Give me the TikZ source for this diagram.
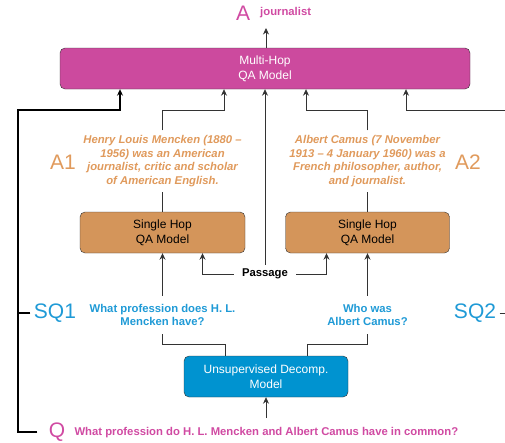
\documentclass[tikz,border=0pt]{standalone}
\usepackage{fontspec}
\setmainfont{Liberation Sans}
\usetikzlibrary{arrows.meta}
\definecolor{hopmagenta}{HTML}{CC4A9E}
\definecolor{hoporange}{HTML}{D4955A}
\definecolor{hopblue}{HTML}{0093D0}
\definecolor{magtext}{HTML}{D04AA2}
\definecolor{orangetext}{HTML}{E09A5C}
\definecolor{bluetext}{HTML}{1F9AD6}

\begin{document}
\begin{tikzpicture}[x=1pt,y=-1pt,
	model/.style={draw=black!80,rounded corners=5pt,minimum height=41pt,align=center,font=\fontsize{12}{15}\selectfont},
	said/.style={font=\fontsize{11.3}{13.4}\selectfont\bfseries,align=center},
	fact/.style={said,font=\fontsize{11.3}{13.4}\selectfont\bfseries\itshape,text=orangetext,inner ysep=5pt},
	subq/.style={said,text=bluetext,inner ysep=8pt},
	tag/.style={font=\fontsize{21}{21}\selectfont},
	link/.style={draw=black!80,line width=0.8pt},
	arr/.style={link,-{Stealth[length=6.5pt,width=6pt]}}]
	\useasboundingbox (0,0) rectangle (505,442);

	\node[model,fill=hopmagenta,text=white,minimum width=410pt] (mh) at (265,68.5) {Multi-Hop\\QA Model};
	\node[model,fill=hoporange,minimum width=165pt] (sh1) at (162.5,232.5) {Single Hop\\QA Model};
	\node[model,fill=hoporange,minimum width=164pt] (sh2) at (367.5,232.5) {Single Hop\\QA Model};
	\node[model,fill=hopblue,text=white,minimum width=164pt] (dec) at (266,376.5) {Unsupervised Decomp.\\Model};

	\node[tag,text=magtext] (alab) at (243,13) {A};
	\node[said,text=magtext,anchor=west,inner sep=0pt] (ans) at (260,13) {journalist};
	\coordinate (aout) at (266,28);

	\node[fact] (a1txt) at (162.5,161) {Henry Louis Mencken (1880 --\\1956) was an American\\journalist, critic and scholar\\of American English.};
	\node[fact] (a2txt) at (367.5,161) {Albert Camus (7 November\\1913 -- 4 January 1960) was a\\French philosopher, author,\\and journalist.};
	\node[tag,text=orangetext] (a1lab) at (63,162) {A1};
	\node[tag,text=orangetext] (a2lab) at (468,162) {A2};

	\node[said,inner xsep=8pt,inner ysep=4pt] (pass) at (265,274) {Passage};

	\node[subq] (sq1txt) at (162.5,315) {What profession does H. L.\\Mencken have?};
	\node[subq] (sq2txt) at (367.5,315) {Who was\\Albert Camus?};
	\node[tag,text=bluetext] (sq1lab) at (55,313) {SQ1};
	\node[tag,text=bluetext] (sq2lab) at (475,313) {SQ2};

	\node[tag,text=magtext] (qlab) at (57,432) {Q};
	\node[said,text=magtext,anchor=west] (qtxt) at (71,433) {What profession do H. L. Mencken and Albert Camus have in common?};

	\coordinate (lrail) at (18,110);
	\coordinate (rrail) at (507,110);

	\draw[arr] (mh.north -| aout) -- (aout);
	\draw[arr,line width=1.4pt,draw=black] ([xshift=-8pt]qlab.west) -| (lrail) -| ([xshift=-145pt]mh.south);
	\draw[link,line width=1.2pt,draw=black] (sq1lab.west) -- (sq1lab.west -| lrail);
	\draw[arr] (sq2lab.east) -| (rrail) -| ([xshift=141pt]mh.south);
	\draw[arr] (a1txt.north) |- (lrail -| a1txt) -| ([xshift=-41pt]mh.south);
	\draw[arr] (a2txt.north) |- (lrail -| a2txt) -| ([xshift=41pt]mh.south);
	\draw[arr] (pass.north) -- (pass.north |- mh.south);
	\draw[link] (sh1.north) -- (a1txt.south);
	\draw[link] (sh2.north) -- (a2txt.south);

	\draw[arr] (pass.west) -| ([xshift=40pt]sh1.south);
	\draw[arr] (pass.east) -| ([xshift=-41pt]sh2.south);
	\draw[arr] (sq1txt.north) -- (sh1.south);
	\draw[arr] (sq2txt.north) -- (sh2.south);
	\draw[link] (sq1txt.south) -- ++(0,10) -| ([xshift=-41pt]dec.north);
	\draw[link] (sq2txt.south) -- ++(0,10) -| ([xshift=41pt]dec.north);
	\draw[arr,shorten <=6pt] (dec.south |- qtxt.north) -- (dec.south);
\end{tikzpicture}
\end{document}
